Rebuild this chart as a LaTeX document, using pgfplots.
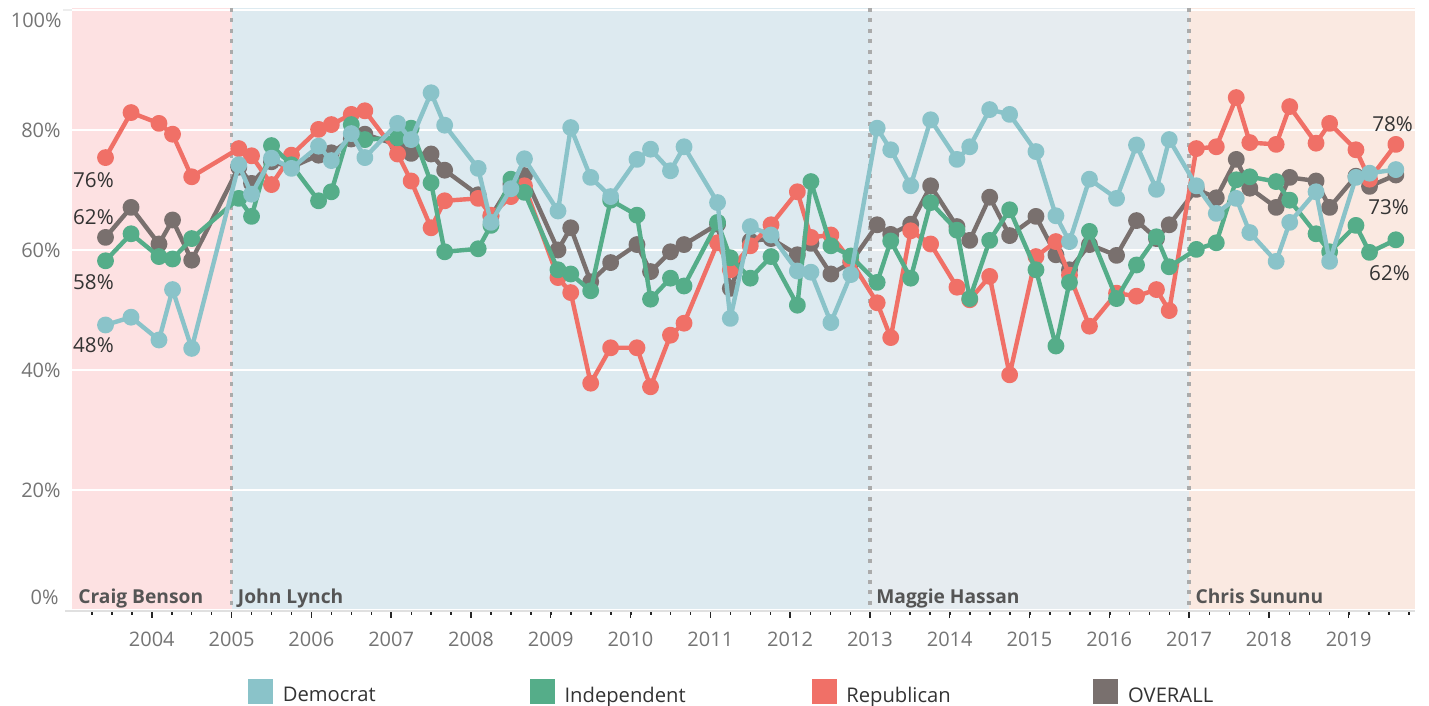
\documentclass[border=0pt]{standalone}
\usepackage{pgfplots}
\pgfplotsset{compat=1.18}
\usepackage{fontspec}
\setmainfont{Open Sans}
\definecolor{dem}{HTML}{8AC3C9}
\definecolor{ind}{HTML}{55AD89}
\definecolor{rep}{HTML}{F07067}
\definecolor{ovr}{HTML}{79706E}
\definecolor{bBenson}{HTML}{FDE1E2}
\definecolor{bLynch}{HTML}{DDEAF0}
\definecolor{bHassan}{HTML}{E6ECF0}
\definecolor{bSununu}{HTML}{FAE9E1}
\definecolor{ticklab}{HTML}{747474}
\definecolor{govlab}{HTML}{555555}
\definecolor{darktext}{HTML}{333333}
\definecolor{vline}{HTML}{ABABAB}
\pgfplotstableread{
x y
2003.42 47.5
2003.74 48.8
2004.09 45.0
2004.26 53.4
2004.50 43.6
2005.09 74.2
2005.25 69.3
2005.50 75.3
2005.75 73.6
2006.09 77.3
2006.25 74.9
2006.50 79.4
2006.67 75.4
2007.08 81.1
2007.25 78.4
2007.50 86.2
2007.67 80.8
2008.09 73.6
2008.25 64.6
2008.50 70.2
2008.67 75.2
2009.09 66.5
2009.25 80.4
2009.50 72.1
2009.75 68.9
2010.08 75.1
2010.25 76.8
2010.50 73.2
2010.67 77.2
2011.09 67.9
2011.25 48.6
2011.50 63.9
2011.76 62.5
2012.09 56.5
2012.26 56.3
2012.51 47.9
2012.76 55.9
2013.09 80.3
2013.26 76.7
2013.51 70.7
2013.76 81.7
2014.09 75.1
2014.25 77.2
2014.50 83.4
2014.75 82.6
2015.08 76.4
2015.33 65.7
2015.50 61.4
2015.75 71.8
2016.09 68.6
2016.34 77.5
2016.59 70.1
2016.75 78.4
2017.09 70.7
2017.34 66.1
2017.59 68.6
2017.76 62.9
2018.09 58.1
2018.26 64.6
2018.59 69.7
2018.76 58.1
2019.09 72.1
2019.26 72.8
2019.59 73.4
}\demtab
\pgfplotstableread{
x y
2003.42 58.2
2003.74 62.7
2004.09 58.9
2004.26 58.5
2004.50 61.9
2005.09 68.6
2005.25 65.6
2005.50 77.4
2005.75 74.2
2006.09 68.2
2006.25 69.7
2006.50 80.9
2006.67 78.4
2007.08 78.7
2007.25 80.3
2007.50 71.2
2007.67 59.7
2008.09 60.2
2008.25 64.1
2008.50 71.8
2008.67 69.6
2009.09 56.7
2009.25 56.0
2009.50 53.2
2009.75 68.3
2010.08 65.8
2010.25 51.8
2010.50 55.3
2010.67 54.0
2011.09 64.6
2011.25 58.7
2011.50 55.3
2011.76 58.9
2012.09 50.8
2012.26 71.4
2012.51 60.7
2012.76 59.0
2013.09 54.6
2013.26 61.5
2013.51 55.3
2013.76 67.9
2014.09 63.3
2014.25 51.9
2014.50 61.6
2014.75 66.7
2015.08 56.7
2015.33 44.0
2015.50 54.6
2015.75 63.1
2016.09 51.9
2016.34 57.5
2016.59 62.2
2016.75 57.2
2017.09 60.1
2017.34 61.2
2017.59 71.7
2017.76 72.2
2018.09 71.4
2018.26 68.3
2018.59 62.7
2018.76 59.7
2019.09 64.1
2019.26 59.6
2019.59 61.7
}\indtab
\pgfplotstableread{
x y
2003.42 75.4
2003.74 82.9
2004.09 81.1
2004.26 79.3
2004.50 72.2
2005.09 76.9
2005.25 75.7
2005.50 70.9
2005.75 75.8
2006.09 80.1
2006.25 80.9
2006.50 82.6
2006.67 83.2
2007.08 76.0
2007.25 71.5
2007.50 63.7
2007.67 68.2
2008.09 68.6
2008.25 65.8
2008.50 68.9
2008.67 70.7
2009.09 55.4
2009.25 52.9
2009.50 37.8
2009.75 43.7
2010.08 43.7
2010.25 37.2
2010.50 45.8
2010.67 47.8
2011.09 61.2
2011.25 56.7
2011.50 60.7
2011.76 64.2
2012.09 69.7
2012.26 62.1
2012.51 62.5
2012.76 58.2
2013.09 51.2
2013.26 45.4
2013.51 63.2
2013.76 61.0
2014.09 53.8
2014.25 51.7
2014.50 55.6
2014.75 39.2
2015.08 58.9
2015.33 61.4
2015.50 55.8
2015.75 47.3
2016.09 52.8
2016.34 52.3
2016.59 53.4
2016.75 49.9
2017.09 76.9
2017.34 77.2
2017.59 85.4
2017.76 77.9
2018.09 77.6
2018.26 83.9
2018.59 77.8
2018.76 81.1
2019.09 76.7
2019.26 71.8
2019.59 77.6
}\reptab
\pgfplotstableread{
x y
2003.42 62.1
2003.74 67.1
2004.09 61.0
2004.26 65.0
2004.50 58.3
2005.09 73.8
2005.25 71.1
2005.50 74.7
2005.75 73.8
2006.09 75.8
2006.25 76.2
2006.50 78.5
2006.67 79.3
2007.08 77.5
2007.25 76.1
2007.50 76.0
2007.67 73.3
2008.09 69.2
2008.25 65.6
2008.50 71.0
2008.67 72.4
2009.09 60.0
2009.25 63.7
2009.50 54.7
2009.75 57.9
2010.08 60.9
2010.25 56.4
2010.50 59.7
2010.67 60.9
2011.09 64.3
2011.25 53.6
2011.50 61.5
2011.76 61.9
2012.09 59.2
2012.26 61.1
2012.51 56.0
2012.76 57.9
2013.09 64.2
2013.26 62.6
2013.51 64.3
2013.76 70.7
2014.09 63.9
2014.25 61.6
2014.50 68.8
2014.75 62.4
2015.08 65.6
2015.33 59.2
2015.50 56.7
2015.75 60.9
2016.09 59.1
2016.34 64.9
2016.59 61.9
2016.75 64.2
2017.09 70.1
2017.34 68.7
2017.59 75.1
2017.76 70.3
2018.09 67.1
2018.26 72.1
2018.59 71.5
2018.76 67.1
2019.09 72.3
2019.26 70.6
2019.59 72.5
}\ovrtab
\begin{document}
\begin{tikzpicture}
\begin{axis}[
  set layers,
  clip mode=individual,
  at={(0,0)}, anchor=south west,
  width=671.5pt, height=301.5pt, scale only axis,
  xmin=2003.0, xmax=2019.83,
  ymin=-0.167, ymax=100.333,
  axis line style={draw=none},
  xtick={2004,...,2019},
  minor xtick={2003.25,2003.5,...,2019.8},
  xtick pos=left,
  ytick={0,20,40,60,80,100},
  yticklabels={,20\%,40\%,60\%,80\%,},
  ytick style={draw=none},
  tick align=outside,
  major tick length=3.5pt,
  minor tick length=1.8pt,
  xtick style={color=black!85, line width=0.75pt},
  ymajorgrids,
  grid style={white, line width=0.8pt},
  /pgf/number format/assume math mode=true,
  /pgf/number format/1000 sep={},
  xticklabel style={font=\fontsize{10}{12}\selectfont, text=ticklab, inner sep=0pt, anchor=base, yshift=-14pt},
  yticklabel style={font=\fontsize{10}{12}\selectfont, text=ticklab, inner sep=0pt, anchor=east, xshift=-2pt},
  legend columns=4,
  legend style={at={(0.13105,-0.1343)}, anchor=west, draw=none, fill=none,
    inner sep=0pt, outer sep=0pt,
    nodes={inner sep=0pt, font=\fontsize{10.1}{12}\selectfont, text=darktext},
    /tikz/every odd column/.style={column sep=5pt},
    /tikz/every even column/.style={column sep=0pt}},
  legend cell align=left,
  line join=round,
]
% bands
\addplot[draw=none, fill=bBenson, forget plot, on layer=axis background] coordinates {(2003,-0.167) (2005,-0.167) (2005,100.333) (2003,100.333)} -- cycle;
\addplot[draw=none, fill=bLynch, forget plot, on layer=axis background] coordinates {(2005,-0.167) (2013,-0.167) (2013,100.333) (2005,100.333)} -- cycle;
\addplot[draw=none, fill=bHassan, forget plot, on layer=axis background] coordinates {(2013,-0.167) (2017,-0.167) (2017,100.333) (2013,100.333)} -- cycle;
\addplot[draw=none, fill=bSununu, forget plot, on layer=axis background] coordinates {(2017,-0.167) (2019.83,-0.167) (2019.83,100.333) (2017,100.333)} -- cycle;
% legend
\addlegendimage{legend image code/.code={\fill[dem] (0pt,-3.4pt) rectangle (12pt,8.6pt);}}
\addlegendentry{\makebox[123.5pt][l]{Democrat}}
\addlegendimage{legend image code/.code={\fill[ind] (0pt,-3.4pt) rectangle (12pt,8.6pt);}}
\addlegendentry{\makebox[123.5pt][l]{Independent}}
\addlegendimage{legend image code/.code={\fill[rep] (0pt,-3.4pt) rectangle (12pt,8.6pt);}}
\addlegendentry{\makebox[123.5pt][l]{Republican}}
\addlegendimage{legend image code/.code={\fill[ovr] (0pt,-3.4pt) rectangle (12pt,8.6pt);}}
\addlegendentry{\makebox[123.5pt][l]{OVERALL}}
% bottom/top lines and dividers
\draw[black!12, line width=0.75pt] ([xshift=-3.5pt]axis cs:2003,-0.167) -- (axis cs:2019.83,-0.167);
\draw[black!7, line width=0.75pt] ([xshift=-4.5pt]axis cs:2003,100) -- (axis cs:2003,100);
\draw[vline, line width=1.8pt, dash pattern=on 2pt off 3.2pt] (axis cs:2005,100.333) -- (axis cs:2005,-0.167);
\draw[vline, line width=1.8pt, dash pattern=on 2pt off 3.2pt] (axis cs:2013,100.333) -- (axis cs:2013,-0.167);
\draw[vline, line width=1.8pt, dash pattern=on 2pt off 3.2pt] (axis cs:2017,100.333) -- (axis cs:2017,-0.167);
% governor names
\node[anchor=base west, inner sep=0pt, font=\bfseries\fontsize{9.6}{11}\selectfont, text=govlab] at (axis cs:2003,0) [xshift=3pt, yshift=3pt] {Craig Benson};
\node[anchor=base west, inner sep=0pt, font=\bfseries\fontsize{9.6}{11}\selectfont, text=govlab] at (axis cs:2005,0) [xshift=3pt, yshift=3pt] {John Lynch};
\node[anchor=base west, inner sep=0pt, font=\bfseries\fontsize{9.6}{11}\selectfont, text=govlab] at (axis cs:2013,0) [xshift=3pt, yshift=3pt] {Maggie Hassan};
\node[anchor=base west, inner sep=0pt, font=\bfseries\fontsize{9.6}{11}\selectfont, text=govlab] at (axis cs:2017,0) [xshift=3pt, yshift=3pt] {Chris Sununu};
% series
\addplot[forget plot, color=ovr, line width=2.2pt, mark=*, mark size=3.1pt, mark options={draw=none, fill=ovr}] table[x=x,y=y] {\ovrtab};
\addplot[forget plot, color=rep, line width=2.2pt, mark=*, mark size=3.1pt, mark options={draw=none, fill=rep}] table[x=x,y=y] {\reptab};
\addplot[forget plot, color=ind, line width=2.2pt, mark=*, mark size=3.1pt, mark options={draw=none, fill=ind}] table[x=x,y=y] {\indtab};
\addplot[forget plot, color=dem, line width=2.2pt, mark=*, mark size=3.1pt, mark options={draw=none, fill=dem}] table[x=x,y=y] {\demtab};
% value labels
\node[anchor=west, inner sep=0pt, font=\fontsize{10.3}{12}\selectfont, text=darktext] at (axis cs:2003.01,71.7) {76\%};
\node[anchor=west, inner sep=0pt, font=\fontsize{10.3}{12}\selectfont, text=darktext] at (axis cs:2003.01,65.5) {62\%};
\node[anchor=west, inner sep=0pt, font=\fontsize{10.3}{12}\selectfont, text=darktext] at (axis cs:2003.01,54.7) {58\%};
\node[anchor=west, inner sep=0pt, font=\fontsize{10.3}{12}\selectfont, text=darktext] at (axis cs:2003.01,44.2) {48\%};
\node[inner sep=0pt, font=\fontsize{10.3}{12}\selectfont, text=darktext] at (axis cs:2019.55,81.0) {78\%};
\node[inner sep=0pt, font=\fontsize{10.3}{12}\selectfont, text=darktext] at (axis cs:2019.50,67.2) {73\%};
\node[inner sep=0pt, font=\fontsize{10.3}{12}\selectfont, text=darktext] at (axis cs:2019.51,56.2) {62\%};
% end tick labels (0% and 100%)
\node[anchor=east, inner sep=0pt, font=\fontsize{10}{12}\selectfont, text=ticklab] at (axis cs:2003,0) [xshift=-6.5pt, yshift=6.5pt] {0\%};
\node[anchor=east, inner sep=0pt, font=\fontsize{10}{12}\selectfont, text=ticklab] at (axis cs:2003,100) [xshift=-5pt, yshift=-5pt] {100\%};
\end{axis}
\pgfresetboundingbox
\path[use as bounding box] (-36pt,-47.5pt) rectangle (678.5pt,305.5pt);
\end{tikzpicture}
\end{document}
